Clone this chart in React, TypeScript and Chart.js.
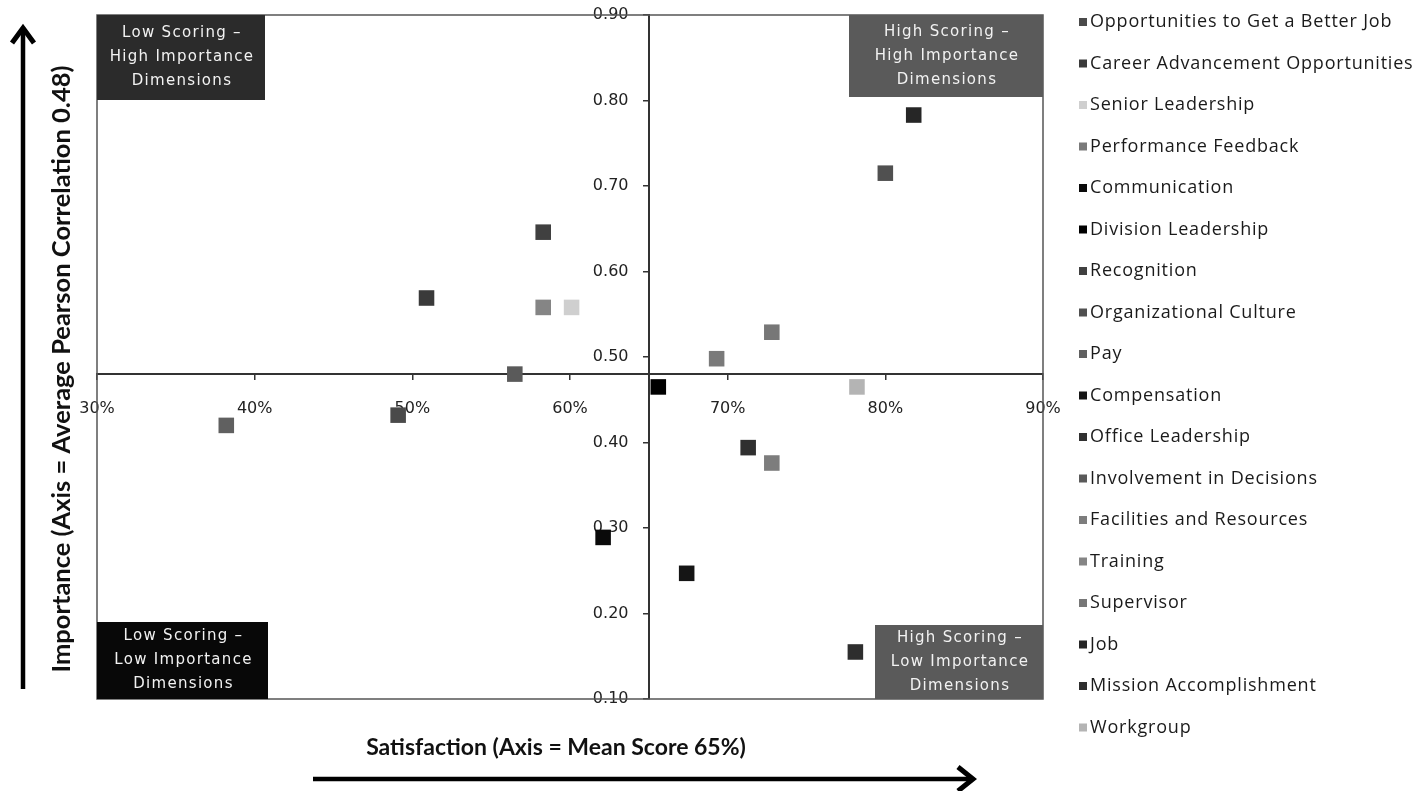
import { useEffect, useRef } from 'react';
import { Chart, registerables } from 'chart.js';

Chart.register(...registerables);

// ---------- data ----------
const dimensionNames = [
  'Opportunities to Get a Better Job',
  'Career Advancement Opportunities',
  'Senior Leadership',
  'Performance Feedback',
  'Communication',
  'Division Leadership',
  'Recognition',
  'Organizational Culture',
  'Pay',
  'Compensation',
  'Office Leadership',
  'Involvement in Decisions',
  'Facilities and Resources',
  'Training',
  'Supervisor',
  'Job',
  'Mission Accomplishment',
  'Workgroup',
];

// Satisfaction (mean score, %)
const satisfaction = [49.1, 50.9, 60.1, 69.3, 62.1, 65.6, 58.3, 80.0, 38.2, 67.4, 71.3, 56.5, 72.8, 58.3, 72.8, 81.8, 78.1, 78.2];
// Importance (average Pearson correlation)
const importance = [0.432, 0.569, 0.558, 0.498, 0.289, 0.465, 0.646, 0.715, 0.42, 0.247, 0.394, 0.48, 0.376, 0.558, 0.529, 0.783, 0.155, 0.465];

const seriesColors = [
  '#4a4a4a', '#3a3a3a', '#cfcfcf', '#7a7a7a', '#0a0a0a', '#000000',
  '#404040', '#505050', '#606060', '#151515', '#303030', '#5a5a5a',
  '#7d7d7d', '#858585', '#777777', '#262626', '#2e2e2e', '#b4b4b4',
];

const xMin = 30;
const xMax = 90;
const xStep = 10;
const yMin = 0.1;
const yMax = 0.9;
const yStep = 0.1;
const meanSatisfaction = 65; // x axis crossing
const meanImportance = 0.48; // y axis crossing

const xTitle = 'Satisfaction (Axis = Mean Score 65%)';
const yTitle = 'Importance (Axis = Average Pearson Correlation 0.48)';

const quadrantLabels = {
  tl: ['Low Scoring –', 'High Importance', 'Dimensions'],
  tr: ['High Scoring –', 'High Importance', 'Dimensions'],
  bl: ['Low Scoring –', 'Low Importance', 'Dimensions'],
  br: ['High Scoring –', 'Low Importance', 'Dimensions'],
};

// ---------- decoration plugin ----------
const quadrantPlugin = {
  id: 'quadrantDecor',
  beforeDatasetsDraw(chart: any) {
    const { ctx, chartArea } = chart;
    const { left, top, right, bottom } = chartArea;
    ctx.save();
    // frame
    ctx.strokeStyle = '#555';
    ctx.lineWidth = 1.5;
    ctx.strokeRect(left, top, right - left, bottom - top);

    const boxes = [
      { key: 'tl', x: left, y: top, w: 168, h: 85, fill: '#2b2b2b' },
      { key: 'tr', x: right - 194, y: top, w: 194, h: 82, fill: '#5a5a5a' },
      { key: 'bl', x: left, y: bottom - 77, w: 171, h: 77, fill: '#080808' },
      { key: 'br', x: right - 168, y: bottom - 74, w: 168, h: 74, fill: '#5a5a5a' },
    ];
    boxes.forEach((b) => {
      ctx.fillStyle = b.fill;
      ctx.fillRect(b.x, b.y, b.w, b.h);
      const lines = (quadrantLabels as any)[b.key] as string[];
      ctx.fillStyle = '#f2f2f2';
      ctx.font = '15px "DejaVu Sans"';
      (ctx as any).letterSpacing = '1.3px';
      ctx.textAlign = 'center';
      ctx.textBaseline = 'middle';
      const cy = b.y + b.h / 2;
      lines.forEach((ln, i) => {
        ctx.fillText(ln, b.x + b.w / 2 + 1, cy + (i - 1) * 24);
      });
      (ctx as any).letterSpacing = '0px';
    });
    ctx.restore();
  },
  afterDraw(chart: any) {
    const { ctx } = chart;
    ctx.save();
    // axis titles
    ctx.fillStyle = '#111';
    ctx.textAlign = 'center';
    ctx.textBaseline = 'middle';
    ctx.font = 'bold 23px Lato';
    ctx.fillText(xTitle, 556, 748);
    ctx.save();
    ctx.font = 'bold 25.5px Lato';
    ctx.translate(62, 369);
    ctx.rotate(-Math.PI / 2);
    ctx.fillText(yTitle, 0, 0);
    ctx.restore();

    // arrows
    ctx.strokeStyle = '#000';
    ctx.lineWidth = 4.5;
    ctx.lineCap = 'butt';
    ctx.lineJoin = 'miter';
    ctx.beginPath();
    ctx.moveTo(23, 689);
    ctx.lineTo(23, 30);
    ctx.stroke();
    ctx.lineWidth = 5;
    ctx.beginPath();
    ctx.moveTo(12, 43);
    ctx.lineTo(23, 28);
    ctx.lineTo(34, 43);
    ctx.stroke();

    ctx.lineWidth = 4.5;
    ctx.beginPath();
    ctx.moveTo(313, 779);
    ctx.lineTo(971, 779);
    ctx.stroke();
    ctx.lineWidth = 5;
    ctx.beginPath();
    ctx.moveTo(958, 767);
    ctx.lineTo(973, 779);
    ctx.lineTo(958, 791);
    ctx.stroke();

    // legend
    const datasets = chart.data.datasets;
    ctx.font = '18px "Open Sans"';
    (ctx as any).letterSpacing = '0.8px';
    ctx.textAlign = 'left';
    ctx.textBaseline = 'middle';
    datasets.forEach((ds: any, i: number) => {
      const cy = 22 + i * 41.5;
      ctx.fillStyle = ds.backgroundColor;
      ctx.fillRect(1079, cy - 4, 8, 8);
      ctx.fillStyle = '#1a1a1a';
      ctx.fillText(ds.label, 1090, cy);
    });
    (ctx as any).letterSpacing = '0px';
    ctx.restore();
  },
};

export default function App() {
  const canvasRef = useRef<HTMLCanvasElement | null>(null);

  useEffect(() => {
    document.body.style.margin = '0';
    const canvas = canvasRef.current;
    if (!canvas) return;
    const chart = new Chart(canvas, {
      type: 'scatter',
      data: {
        datasets: dimensionNames.map((name, i) => ({
          label: name,
          data: [{ x: satisfaction[i], y: importance[i] }],
          backgroundColor: seriesColors[i],
          borderColor: seriesColors[i],
          borderWidth: 0,
          pointStyle: 'rect',
          pointRadius: 11,
          pointHoverRadius: 11,
        })),
      },
      options: {
        responsive: false,
        animation: false,
        devicePixelRatio: 1,
        layout: { padding: { left: 97, top: 15, right: 375, bottom: 92 } },
        plugins: {
          legend: { display: false },
          tooltip: { enabled: false },
        },
        scales: {
          x: {
            type: 'linear',
            min: xMin,
            max: xMax,
            position: { y: meanImportance } as any,
            afterFit: (s: any) => { s.height = 0; },
            ticks: {
              stepSize: xStep,
              callback: (v: any) => `${v}%`,
              font: { family: '"DejaVu Sans"', size: 16 },
              color: '#222',
              padding: 20,
            },
            grid: { drawOnChartArea: false, drawTicks: true, tickLength: 5, color: '#333', lineWidth: 1.5 },
            border: { display: true, color: '#333', width: 2 },
          },
          y: {
            type: 'linear',
            min: yMin,
            max: yMax,
            position: { x: meanSatisfaction } as any,
            afterFit: (s: any) => { s.width = 0; },
            ticks: {
              stepSize: yStep,
              callback: (v: any) => `${Number(v).toFixed(2)}    `,
              font: { family: '"DejaVu Sans"', size: 16 },
              color: '#222',
            },
            grid: { drawOnChartArea: false, drawTicks: true, tickLength: 5, color: '#333', lineWidth: 1.5 },
            border: { display: true, color: '#333', width: 2 },
          },
        },
      },
      plugins: [quadrantPlugin],
    });
    return () => chart.destroy();
  }, []);

  return (
    <div style={{ width: 1418, height: 791, position: 'relative' }}>
      <canvas ref={canvasRef} width={1418} height={791} style={{ display: 'block' }} />
    </div>
  );
}
